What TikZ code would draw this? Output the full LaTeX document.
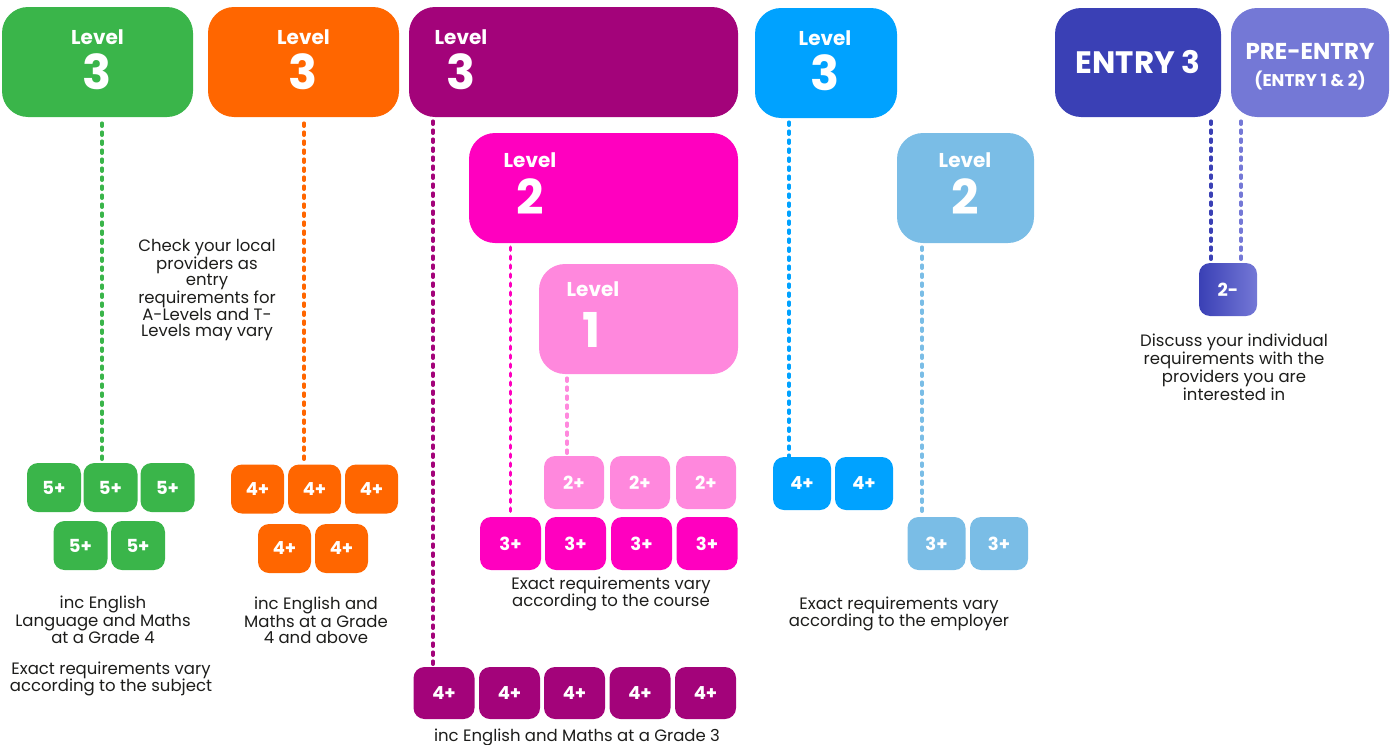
\documentclass[tikz,border=0pt]{standalone}
\usepackage{fontspec}
\setmainfont{Poppins}
\usetikzlibrary{calc}

\definecolor{lvgreen}{HTML}{3AB54A}
\definecolor{lvorange}{HTML}{FF6600}
\definecolor{lvpurple}{HTML}{A3037A}
\definecolor{lvblue}{HTML}{00A2FF}
\definecolor{lvmagenta}{HTML}{FF00BF}
\definecolor{lvpink}{HTML}{FF88DD}
\definecolor{lvsky}{HTML}{7ABDE6}
\definecolor{lventry}{HTML}{3A40B5}
\definecolor{lvpre}{HTML}{7478D6}
\definecolor{lvtext}{HTML}{1D1D1B}

\tikzset{
    bigbox/.style={rounded corners=26pt, inner sep=0pt},
    gradebox/.style={rounded corners=11pt, inner sep=0pt, text=white,
        font=\fontsize{18}{18}\selectfont\bfseries},
    lvl/.style={text=white, inner sep=0pt, font=\fontsize{20}{20}\selectfont\bfseries},
    num/.style={text=white, inner sep=0pt, font=\fontsize{48}{48}\selectfont\bfseries},
    note/.style={text=lvtext, align=center, inner sep=0pt,
        font=\fontsize{16.5}{16}\selectfont},
    dots/.style={draw=#1, line width=3.5pt, line cap=round,
        dash pattern=on 3pt off 6pt}
}

\begin{document}
\begin{tikzpicture}[x=1pt,y=-1pt]
    \useasboundingbox (0,0) rectangle (1396,744);

    % top boxes
    \node[bigbox, fill=lvgreen, minimum width=191pt, minimum height=110pt] (g3) at (97.5,62) {};
    \node[lvl] (g3lvl) at (97.5,37) {Level};
    \node[num] (g3num) at (97.5,72) {3};

    \node[bigbox, fill=lvorange, minimum width=191pt, minimum height=110pt] (o3) at (303.5,62) {};
    \node[lvl] (o3lvl) at (303.5,37) {Level};
    \node[num] (o3num) at (303.5,72) {3};

    \node[bigbox, fill=lvpurple, minimum width=329pt, minimum height=110pt] (p3) at (573.5,62) {};
    \node[lvl] (p3lvl) at (461,37) {Level};
    \node[num] (p3num) at (461,72) {3};

    \node[bigbox, fill=lvblue, minimum width=142pt, minimum height=110pt] (b3) at (826,63) {};
    \node[lvl] (b3lvl) at (825,38) {Level};
    \node[num] (b3num) at (825,73) {3};

    \node[bigbox, fill=lventry, minimum width=166pt, minimum height=109pt] (e3) at (1138,62.5) {};
    \node[text=white, inner sep=0pt, font=\fontsize{31}{31}\selectfont\bfseries] (e3txt) at (1138,62) {ENTRY 3};

    \node[bigbox, fill=lvpre, minimum width=158pt, minimum height=109pt] (pe) at (1310,62.5) {};
    \node[text=white, inner sep=0pt, font=\fontsize{23}{23}\selectfont\bfseries] (petxt) at (1310,51) {PRE-ENTRY};
    \node[text=white, inner sep=0pt, font=\fontsize{17}{17}\selectfont\bfseries] (petxt2) at (1310,81) {(ENTRY 1 \& 2)};

    % second line
    \node[bigbox, fill=lvmagenta, minimum width=269pt, minimum height=110pt] (m2) at (603.5,188) {};
    \node[lvl] (m2lvl) at (530,160) {Level};
    \node[num] (m2num) at (530,197) {2};

    \node[bigbox, fill=lvsky, minimum width=137pt, minimum height=110pt] (c2) at (965.5,188) {};
    \node[lvl] (c2lvl) at (965,160) {Level};
    \node[num] (c2num) at (965,197) {2};

    % third line
    \node[bigbox, fill=lvpink, minimum width=199pt, minimum height=110pt] (l1) at (638.5,319) {};
    \node[lvl] (l1lvl) at (593,289) {Level};
    \node[num] (l1num) at (592,330) {1};

    % green grades
    \node[gradebox, fill=lvgreen, minimum width=54pt, minimum height=49pt] (gb1) at (54,487.5) {5+};
    \node[gradebox, fill=lvgreen, minimum width=54pt, minimum height=49pt] (gb2) at (110.5,487.5) {5+};
    \node[gradebox, fill=lvgreen, minimum width=54pt, minimum height=49pt] (gb3) at (167.5,487.5) {5+};
    \node[gradebox, fill=lvgreen, minimum width=54pt, minimum height=49pt] (gb4) at (80.5,545.5) {5+};
    \node[gradebox, fill=lvgreen, minimum width=54pt, minimum height=49pt] (gb5) at (138,545.5) {5+};

    % orange grades
    \node[gradebox, fill=lvorange, minimum width=53pt, minimum height=49pt] (ob1) at (257.5,489) {4+};
    \node[gradebox, fill=lvorange, minimum width=53pt, minimum height=49pt] (ob2) at (314.5,489) {4+};
    \node[gradebox, fill=lvorange, minimum width=53pt, minimum height=49pt] (ob3) at (371.5,489) {4+};
    \node[gradebox, fill=lvorange, minimum width=53pt, minimum height=49pt] (ob4) at (284.5,548.5) {4+};
    \node[gradebox, fill=lvorange, minimum width=53pt, minimum height=49pt] (ob5) at (341.5,548.5) {4+};

    % pink grades
    \node[gradebox, fill=lvpink, minimum width=60pt, minimum height=53pt] (lb1) at (574,482.5) {2+};
    \node[gradebox, fill=lvpink, minimum width=60pt, minimum height=53pt] (lb2) at (640,482.5) {2+};
    \node[gradebox, fill=lvpink, minimum width=60pt, minimum height=53pt] (lb3) at (706,482.5) {2+};

    % magenta grades
    \node[gradebox, fill=lvmagenta, minimum width=61pt, minimum height=53pt] (mb1) at (510.5,543.5) {3+};
    \node[gradebox, fill=lvmagenta, minimum width=61pt, minimum height=53pt] (mb2) at (575.5,543.5) {3+};
    \node[gradebox, fill=lvmagenta, minimum width=61pt, minimum height=53pt] (mb3) at (641.5,543.5) {3+};
    \node[gradebox, fill=lvmagenta, minimum width=61pt, minimum height=53pt] (mb4) at (707,543.5) {3+};

    % purple grades
    \node[gradebox, fill=lvpurple, minimum width=61pt, minimum height=52pt] (pb1) at (444,693) {4+};
    \node[gradebox, fill=lvpurple, minimum width=61pt, minimum height=52pt] (pb2) at (509.5,693) {4+};
    \node[gradebox, fill=lvpurple, minimum width=61pt, minimum height=52pt] (pb3) at (574.5,693) {4+};
    \node[gradebox, fill=lvpurple, minimum width=61pt, minimum height=52pt] (pb4) at (640,693) {4+};
    \node[gradebox, fill=lvpurple, minimum width=61pt, minimum height=52pt] (pb5) at (705.5,693) {4+};

    % blue grades
    \node[gradebox, fill=lvblue, minimum width=58pt, minimum height=53pt] (bb1) at (802,483.5) {4+};
    \node[gradebox, fill=lvblue, minimum width=58pt, minimum height=53pt] (bb2) at (864,483.5) {4+};
    \node[gradebox, fill=lvsky, minimum width=58pt, minimum height=53pt] (cb1) at (936.5,543.5) {3+};
    \node[gradebox, fill=lvsky, minimum width=58pt, minimum height=53pt] (cb2) at (999,543.5) {3+};

    % entry grade
    \node[gradebox, left color=lventry, right color=lvpre, minimum width=58pt, minimum height=53pt] (d2) at (1228,289.5) {2-};

    % dotted links
    \draw[dots=lvgreen] ($(gb2.north |- g3.south)+(-8.5,6)$) -- ($(gb2.north)+(-8.5,0)$);
    \draw[dots=lvorange] ($(ob2.north |- o3.south)+(-10.5,6)$) -- ($(ob2.north)+(-10.5,0)$);
    \draw[dots=lvpurple] ($(pb1.north |- p3.south)+(-11,4)$) -- ($(pb1.north)+(-11,-2)$);
    \draw[dots=lvmagenta] ($(mb1.north |- m2.south)+(0,4)$) -- (mb1.north);
    \draw[dots=lvpink] ($(lb1.north |- l1.south)+(-7,4)$) -- ($(lb1.north)+(-7,0)$);
    \draw[dots=lvblue] ($(bb1.north |- b3.south)+(-13,4)$) -- ($(bb1.north)+(-13,0)$);
    \draw[dots=lvsky] ($(cb1.north |- c2.south)+(-14.5,4)$) -- ($(cb1.north)+(-14.5,0)$);
    \draw[dots=lventry] ($(d2.north |- e3.south)+(-17,4)$) -- ($(d2.north)+(-17,0)$);
    \draw[dots=lvpre] ($(d2.north |- pe.south)+(13,4)$) -- ($(d2.north)+(13,0)$);

    % notes
    \node[note] (nlocal) at (207,290) {Check your local\\providers as\\entry\\requirements for\\A-Levels and T-\\Levels may vary};
    \node[note] (ngreen) at (103,620) {inc English\\Language and Maths\\at a Grade 4};
    \node[note] (ngreen2) at (111,679) {Exact requirements vary\\according to the subject};
    \node[note] (norange) at (316,620) {inc English and\\Maths at a Grade\\4 and above};
    \node[note] (nmagenta) at (611,594) {Exact requirements vary\\according to the course};
    \node[note] (npurple) at (577,737) {inc English and Maths at a Grade 3};
    \node[note] (nblue) at (899,614) {Exact requirements vary\\according to the employer};
    \node[note] (nentry) at (1234,367.5) {Discuss your individual\\requirements with the\\providers you are\\interested in};
\end{tikzpicture}
\end{document}
